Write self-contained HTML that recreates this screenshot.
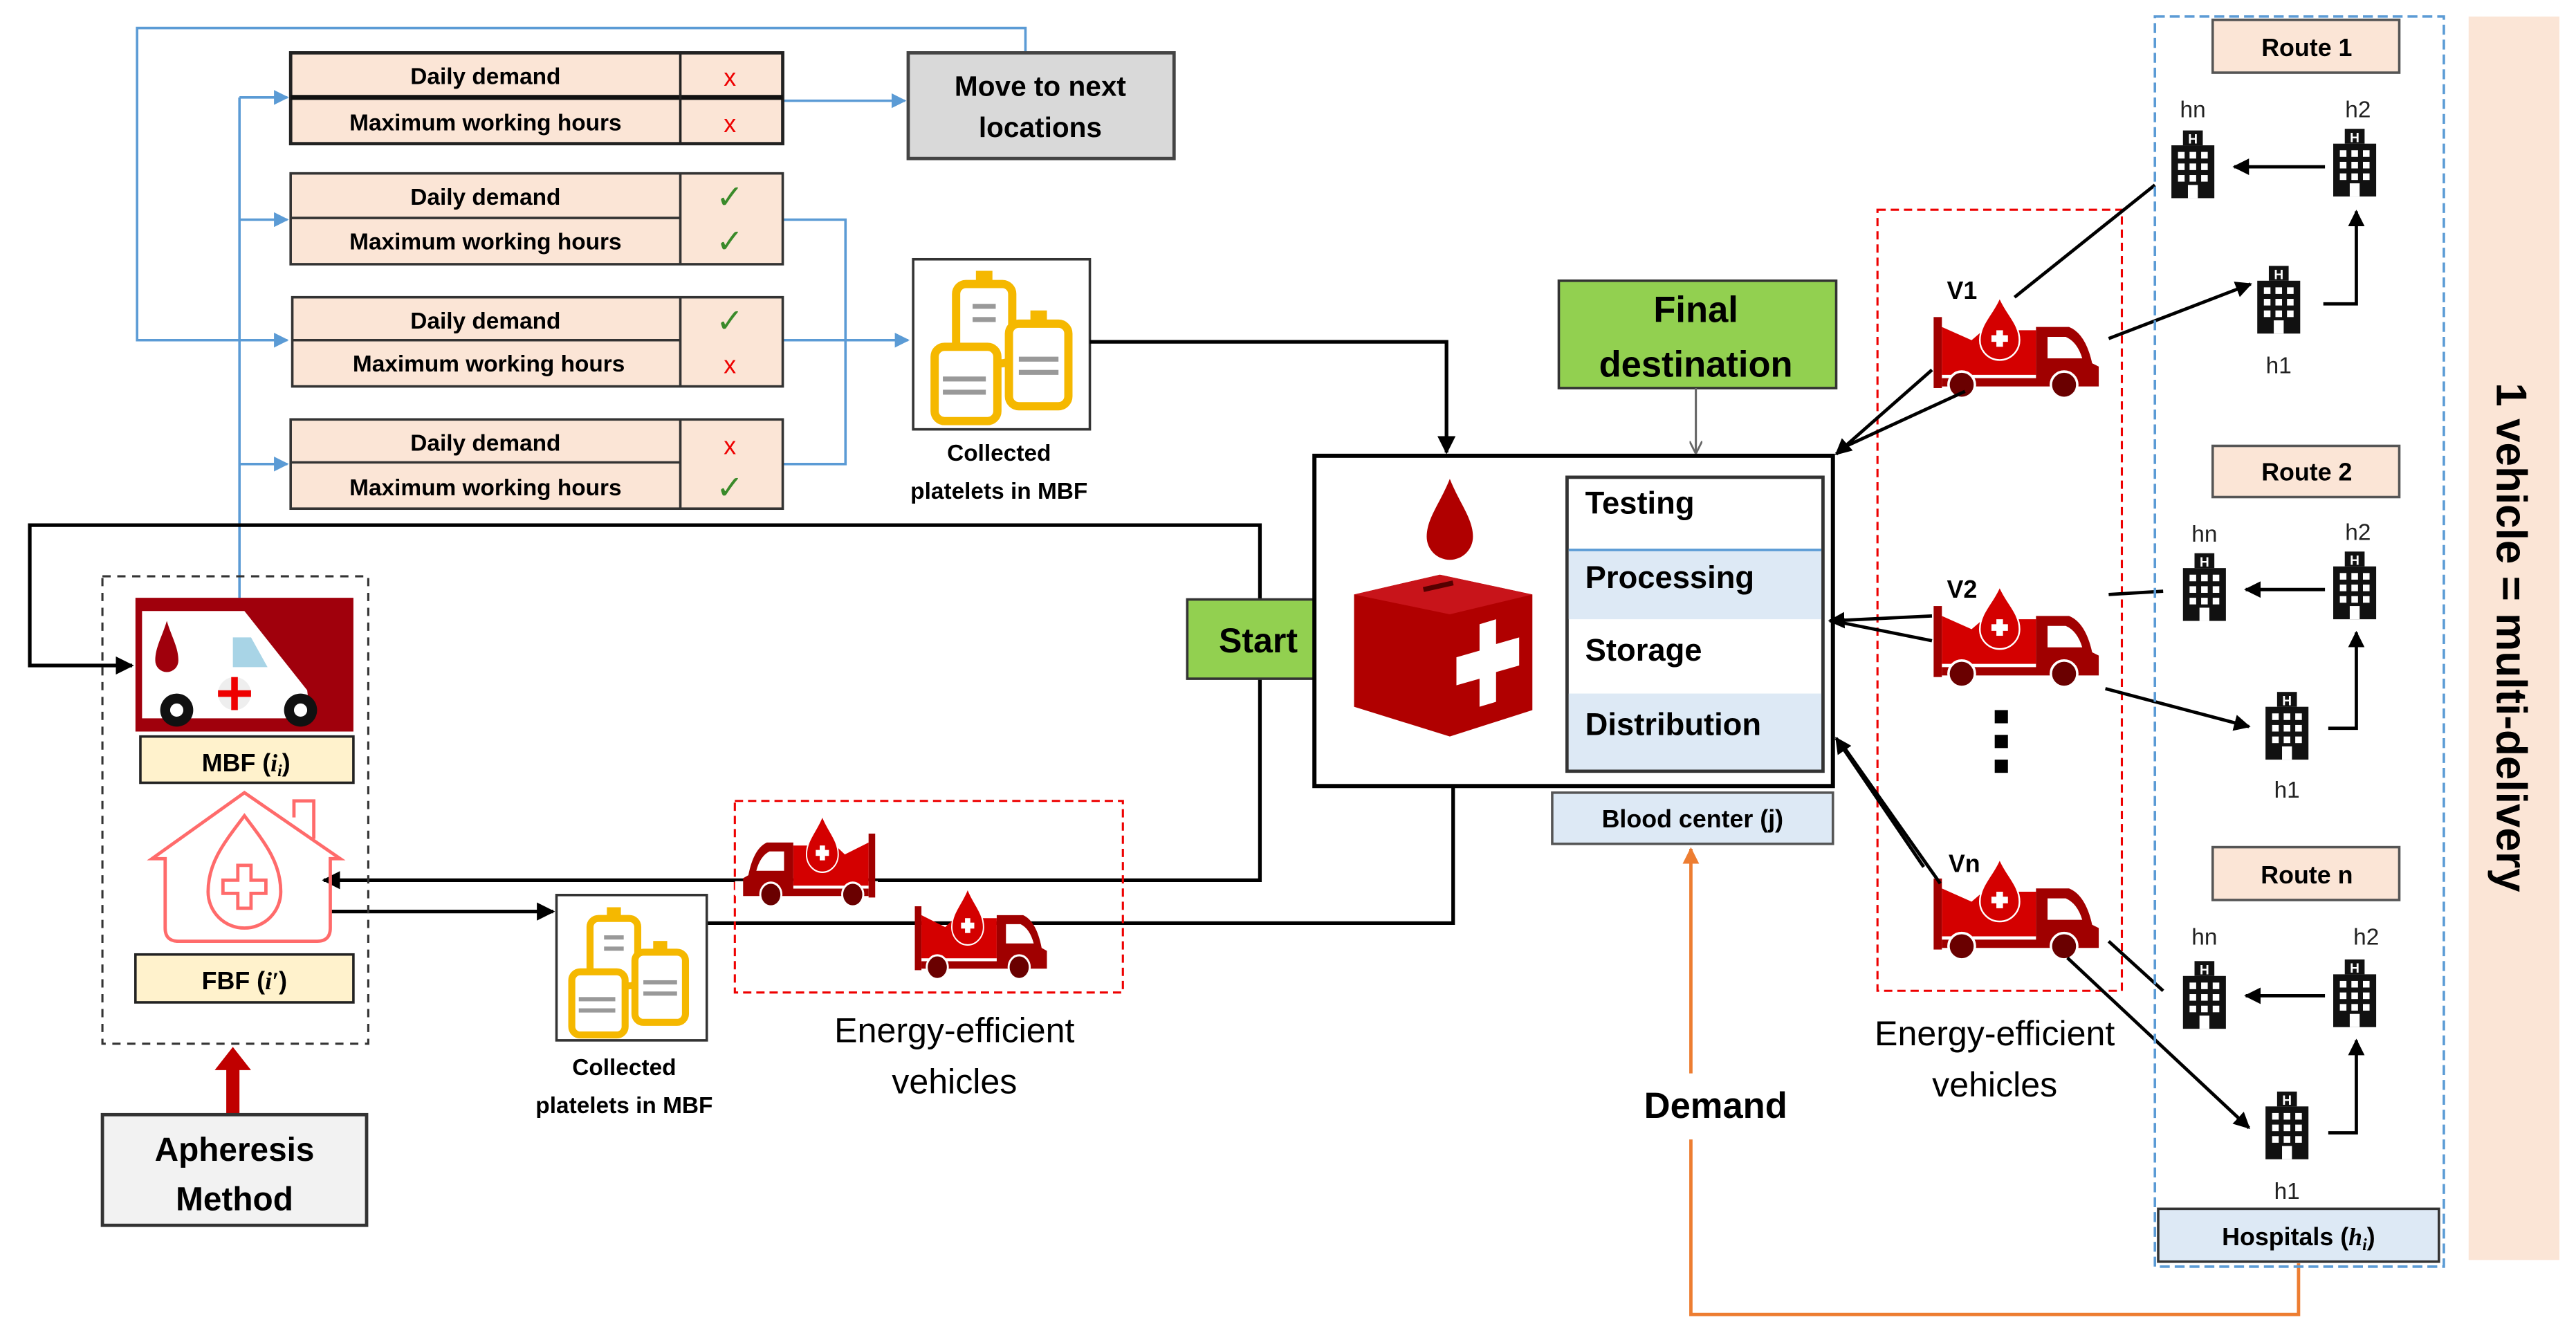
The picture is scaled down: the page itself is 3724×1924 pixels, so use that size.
<!DOCTYPE html>
<html><head><meta charset="utf-8"><style>
html,body{margin:0;padding:0;background:#fff}
svg{display:block}
text{font-family:"Liberation Sans","DejaVu Sans",sans-serif}
</style></head><body>
<svg width="3724" height="1924" viewBox="0 0 1560 806" xmlns="http://www.w3.org/2000/svg">
<defs>
<marker id="ab" viewBox="0 0 10 10" refX="9" refY="5" markerWidth="6" markerHeight="6" orient="auto"><path d="M0,0 L10,5 L0,10 z" fill="#5b9bd5"/></marker>
<marker id="ak" viewBox="0 0 10 10" refX="9" refY="5" markerWidth="5" markerHeight="5" orient="auto"><path d="M0,0 L10,5 L0,10 z" fill="#000"/></marker>
<marker id="ag" viewBox="0 0 10 10" refX="9" refY="5" markerWidth="6" markerHeight="6" orient="auto"><path d="M0,0 L10,5 L0,10" fill="none" stroke="#666" stroke-width="1.5"/></marker>
<marker id="ao" viewBox="0 0 10 10" refX="9" refY="5" markerWidth="5" markerHeight="5" orient="auto"><path d="M0,0 L10,5 L0,10 z" fill="#ed7d31"/></marker>
<g id="truck">
 <rect x="0" y="12" width="5" height="43" fill="#a00000"/>
 <path d="M5,18 L23,26 L30,20 L62,20 L62,47 L5,47 z" fill="#d40000"/>
 <path d="M40,0 C44,10 52,16 52,26 A12,12 0 0 1 28,26 C28,16 36,10 40,0 z" fill="#d40000" stroke="#fff" stroke-width="1"/>
 <rect x="35" y="23" width="10" height="4" fill="#fff"/><rect x="38" y="20" width="4" height="10" fill="#fff"/>
 <path d="M62,18 L82,18 Q92,22 96,40 L100,42 L100,54 L5,54 L5,49 L62,49 z" fill="#a00000"/>
 <path d="M69,24 L80,24 Q87,27 90,37 L69,37 z" fill="#fff"/>
 <circle cx="17" cy="53" r="8" fill="#6a0000" stroke="#fff" stroke-width="1.5"/>
 <circle cx="79" cy="53" r="8" fill="#6a0000" stroke="#fff" stroke-width="1.5"/>
</g>
<g id="bld">
 <rect x="7" y="0" width="12" height="9" fill="#111"/>
 <text x="13" y="8" font-size="8" fill="#fff" text-anchor="middle" font-weight="bold">H</text>
 <rect x="0" y="9" width="26" height="32" fill="#111"/>
 <g fill="#fff">
  <rect x="4" y="13" width="4" height="4"/><rect x="11" y="13" width="4" height="4"/><rect x="18" y="13" width="4" height="4"/>
  <rect x="4" y="20" width="4" height="4"/><rect x="11" y="20" width="4" height="4"/><rect x="18" y="20" width="4" height="4"/>
  <rect x="4" y="27" width="4" height="4"/><rect x="11" y="27" width="4" height="4"/><rect x="18" y="27" width="4" height="4"/>
  <rect x="10" y="33" width="6" height="8"/>
 </g>
</g>
<g id="bags">
 <rect x="18" y="12" width="34" height="48" rx="6" fill="#fff" stroke="#f5b800" stroke-width="5"/>
 <rect x="30" y="4" width="10" height="8" fill="#f5b800"/>
 <rect x="5" y="50" width="38" height="45" rx="6" fill="#fff" stroke="#f5b800" stroke-width="5"/>
 <rect x="50" y="36" width="36" height="50" rx="6" fill="#fff" stroke="#f5b800" stroke-width="5"/>
 <rect x="63" y="28" width="10" height="8" fill="#f5b800"/>
 <g fill="#999"><rect x="28" y="24" width="14" height="3"/><rect x="28" y="32" width="14" height="3"/><rect x="56" y="56" width="24" height="3"/><rect x="56" y="64" width="24" height="3"/><rect x="10" y="68" width="26" height="3"/><rect x="10" y="76" width="26" height="3"/></g>
</g>
</defs>

<g stroke="#5b9bd5" stroke-width="1.5" fill="none">
 <path d="M621,31 L621,17 L83,17 L83,206 L174,206" marker-end="url(#ab)"/>
 <path d="M145,362 L145,59"/>
 <path d="M145,59 L174,59" marker-end="url(#ab)"/>
 <path d="M145,133 L174,133" marker-end="url(#ab)"/>
 <path d="M145,281 L174,281" marker-end="url(#ab)"/>
 <path d="M474,61 L548,61" marker-end="url(#ab)"/>
 <path d="M474,133 L512,133 L512,281 L474,281"/>
 <path d="M474,206 L550,206" marker-end="url(#ab)"/>
</g>

<g font-weight="bold" font-size="14" text-anchor="middle">
 <g>
  <rect x="176" y="32" width="298" height="55" fill="#fbe5d6" stroke="#222" stroke-width="2"/>
  <line x1="176" y1="59" x2="474" y2="59" stroke="#111" stroke-width="3"/><line x1="412" y1="32" x2="412" y2="87" stroke="#222" stroke-width="1.5"/>
  <text x="294" y="51">Daily demand</text><text x="294" y="79">Maximum working hours</text>
  <text x="442" y="52" fill="#e00" font-weight="normal" font-size="15">x</text><text x="442" y="80" fill="#e00" font-weight="normal" font-size="15">x</text>
 </g>
 <g>
  <rect x="176" y="105" width="298" height="55" fill="#fbe5d6" stroke="#333" stroke-width="1.5"/>
  <line x1="176" y1="132" x2="412" y2="132" stroke="#333" stroke-width="1.5"/><line x1="412" y1="105" x2="412" y2="160" stroke="#333" stroke-width="1.5"/>
  <text x="294" y="124">Daily demand</text><text x="294" y="151">Maximum working hours</text>
  <text x="442" y="126" fill="#3a8a2a" font-weight="normal" font-size="20">✓</text><text x="442" y="153" fill="#3a8a2a" font-weight="normal" font-size="20">✓</text>
 </g>
 <g>
  <rect x="177" y="180" width="297" height="54" fill="#fbe5d6" stroke="#333" stroke-width="1.5"/>
  <line x1="177" y1="206" x2="412" y2="206" stroke="#333" stroke-width="1.5"/><line x1="412" y1="180" x2="412" y2="234" stroke="#333" stroke-width="1.5"/>
  <text x="294" y="199">Daily demand</text><text x="296" y="225">Maximum working hours</text>
  <text x="442" y="201" fill="#3a8a2a" font-weight="normal" font-size="20">✓</text><text x="442" y="226" fill="#e00" font-weight="normal" font-size="15">x</text>
 </g>
 <g>
  <rect x="176" y="254" width="298" height="54" fill="#fbe5d6" stroke="#333" stroke-width="1.5"/>
  <line x1="176" y1="280" x2="412" y2="280" stroke="#333" stroke-width="1.5"/><line x1="412" y1="254" x2="412" y2="308" stroke="#333" stroke-width="1.5"/>
  <text x="294" y="273">Daily demand</text><text x="294" y="300">Maximum working hours</text>
  <text x="442" y="275" fill="#e00" font-weight="normal" font-size="15">x</text><text x="442" y="302" fill="#3a8a2a" font-weight="normal" font-size="20">✓</text>
 </g>
</g>

<rect x="550" y="32" width="161" height="64" fill="#d9d9d9" stroke="#444" stroke-width="2"/>
<text x="630" y="58" font-size="17" font-weight="bold" text-anchor="middle">Move to next</text>
<text x="630" y="83" font-size="17" font-weight="bold" text-anchor="middle">locations</text>

<rect x="553" y="157" width="107" height="103" fill="#fff" stroke="#333" stroke-width="1.5"/>
<use href="#bags" transform="translate(561,160)"/>
<text x="605" y="279" font-size="14" font-weight="bold" text-anchor="middle">Collected</text>
<text x="605" y="302" font-size="14" font-weight="bold" text-anchor="middle">platelets in MBF</text>

<g stroke="#000" stroke-width="2.2" fill="none">
 <path d="M660,207 L876,207 L876,274" marker-end="url(#ak)"/>
 <path d="M763,363 L763,318 L18,318 L18,403 L80,403" marker-end="url(#ak)"/>
 <path d="M763,411 L763,533 L196,533" marker-end="url(#ak)"/>
 <path d="M200,552 L335,552" marker-end="url(#ak)"/>
 <path d="M428,559 L880,559 L880,451" marker-end="url(#ak)"/>
</g>

<rect x="62" y="349" width="161" height="283" fill="none" stroke="#333" stroke-width="1.3" stroke-dasharray="5,4"/>
<rect x="82" y="362" width="132" height="81" fill="#a0000c"/>
<path d="M86,370 L148,370 L186,418 L188,435 L86,435 z" fill="#fff"/>
<path d="M141,386 L152,386 L162,404 L141,404 z" fill="#a8d4e6"/>
<path d="M101,376 C104,386 108,392 108,400 A7,7 0 0 1 94,400 C94,392 98,386 101,376z" fill="#a0000c"/>
<circle cx="142" cy="420" r="10" fill="#eee"/><rect x="140" y="410" width="4" height="20" fill="#e00"/><rect x="132" y="418" width="20" height="4" fill="#e00"/>
<circle cx="107" cy="430" r="10" fill="#111"/><circle cx="107" cy="430" r="4" fill="#fff"/>
<circle cx="182" cy="430" r="10" fill="#111"/><circle cx="182" cy="430" r="4" fill="#fff"/>
<rect x="85" y="446" width="129" height="28" fill="#fff2cc" stroke="#222" stroke-width="1.5"/>
<text x="149" y="467" font-size="15" font-weight="bold" text-anchor="middle">MBF (<tspan font-style="italic" font-family="Liberation Serif">i</tspan><tspan font-size="10" font-style="italic" font-family="Liberation Serif" dy="3">i</tspan><tspan dy="-3">)</tspan></text>
<g fill="none" stroke="#ff6b6b" stroke-width="2">
 <path d="M92,520 L148,480 L206,520 L200,520 L200,562 Q200,570 192,570 L108,570 Q100,570 100,562 L100,520 z"/>
 <path d="M178,495 L178,485 L190,485 L190,508"/>
 <path d="M148,494 C160,510 170,522 170,540 A22,22 0 0 1 126,540 C126,522 136,510 148,494 z"/>
 <path d="M144,524 h8 v9 h9 v8 h-9 v9 h-8 v-9 h-9 v-8 h9 z"/>
</g>
<rect x="82" y="578" width="132" height="29" fill="#fff2cc" stroke="#222" stroke-width="1.5"/>
<text x="148" y="599" font-size="15" font-weight="bold" text-anchor="middle">FBF (<tspan font-style="italic" font-family="Liberation Serif">i′</tspan>)</text>
<path d="M137,675 L137,648 L130,648 L141,634 L152,648 L145,648 L145,675 z" fill="#c00000"/>
<rect x="62" y="675" width="160" height="67" fill="#f2f2f2" stroke="#333" stroke-width="2"/>
<text x="142" y="703" font-size="20" font-weight="bold" text-anchor="middle">Apheresis</text>
<text x="142" y="733" font-size="20" font-weight="bold" text-anchor="middle">Method</text>

<rect x="337" y="542" width="91" height="88" fill="#fff" stroke="#333" stroke-width="1.5"/>
<g transform="translate(342,546) scale(0.85)"><use href="#bags"/></g>
<text x="378" y="651" font-size="14" font-weight="bold" text-anchor="middle">Collected</text>
<text x="378" y="674" font-size="14" font-weight="bold" text-anchor="middle">platelets in MBF</text>

<rect x="445" y="485" width="235" height="116" fill="none" stroke="#e00" stroke-width="1.3" stroke-dasharray="5,3"/>
<g transform="translate(530,494) scale(-0.8,0.9)"><rect x="-2" y="44" width="108" height="10" fill="#fff"/><use href="#truck"/></g>
<g transform="translate(554,538) scale(0.8,0.9)"><use href="#truck"/></g>
<text x="578" y="631" font-size="21" text-anchor="middle">Energy-efficient</text>
<text x="578" y="662" font-size="21" text-anchor="middle">vehicles</text>

<rect x="719" y="363" width="86" height="48" fill="#92d050" stroke="#333" stroke-width="1.5"/>
<text x="762" y="395" font-size="21" font-weight="bold" text-anchor="middle">Start</text>

<rect x="796" y="276" width="314" height="200" fill="#fff" stroke="#000" stroke-width="2.5"/>
<path d="M878,290 C884,305 892,314 892,325 A14,14 0 0 1 864,325 C864,314 872,305 878,290z" fill="#b00000"/>
<path d="M820,360 L872,348 L928,360 L928,430 L878,446 L820,428 z" fill="#b00000"/>
<path d="M820,360 L872,348 L928,360 L878,372 z" fill="#c8141a"/>
<line x1="862" y1="357" x2="880" y2="353" stroke="#500" stroke-width="3"/>
<path d="M896,378 L906,375 L906,390 L920,386 L920,403 L906,407 L906,425 L896,428 L896,411 L882,415 L882,398 L896,394 z" fill="#fff"/>
<rect x="949" y="289" width="155" height="178" fill="#fff" stroke="#333" stroke-width="2"/>
<rect x="950" y="333" width="153" height="42" fill="#dde9f5"/>
<line x1="950" y1="333" x2="1103" y2="333" stroke="#5b9bd5" stroke-width="1.5"/>
<rect x="950" y="420" width="153" height="46" fill="#dde9f5"/>
<g font-size="19" font-weight="bold"><text x="960" y="311">Testing</text><text x="960" y="356">Processing</text><text x="960" y="400">Storage</text><text x="960" y="445">Distribution</text></g>
<rect x="940" y="480" width="170" height="31" fill="#dde9f5" stroke="#555" stroke-width="1.5"/>
<text x="1025" y="501" font-size="15" font-weight="bold" text-anchor="middle">Blood center (j)</text>

<rect x="944" y="170" width="168" height="65" fill="#92d050" stroke="#333" stroke-width="1.5"/>
<text x="1027" y="195" font-size="22" font-weight="bold" text-anchor="middle">Final</text>
<text x="1027" y="228" font-size="22" font-weight="bold" text-anchor="middle">destination</text>
<path d="M1027,235 L1027,274" stroke="#666" stroke-width="1.3" marker-end="url(#ag)"/>

<g stroke="#ed7d31" stroke-width="2" fill="none">
 <path d="M1392,765 L1392,796 L1024,796 L1024,690"/>
 <path d="M1024,650 L1024,514" marker-end="url(#ao)"/>
</g>
<text x="1039" y="677" font-size="22" font-weight="bold" text-anchor="middle">Demand</text>

<rect x="1137" y="127" width="148" height="473" fill="none" stroke="#e00" stroke-width="1.3" stroke-dasharray="5,3"/>
<use href="#truck" transform="translate(1171,180)"/>
<use href="#truck" transform="translate(1171,355)"/>
<use href="#truck" transform="translate(1171,520)"/>
<g font-size="15" font-weight="bold"><text x="1179" y="181">V1</text><text x="1179" y="362">V2</text><text x="1180" y="528">Vn</text></g>
<g fill="#000"><rect x="1208" y="430" width="8" height="8"/><rect x="1208" y="445" width="8" height="8"/><rect x="1208" y="460" width="8" height="8"/></g>
<text x="1208" y="633" font-size="21" text-anchor="middle">Energy-efficient</text>
<text x="1208" y="664" font-size="21" text-anchor="middle">vehicles</text>

<g stroke="#000" stroke-width="2" fill="none">
 <path d="M1170,224 L1112,275" marker-end="url(#ak)"/>
 <path d="M1190,237 L1114,272"/>
 <path d="M1220,180 L1305,112"/>
 <path d="M1277,205 L1363,172" marker-end="url(#ak)"/>
 <path d="M1170,373 L1108,376" marker-end="url(#ak)"/>
 <path d="M1170,388 L1110,376"/>
 <path d="M1277,360 L1310,358"/>
 <path d="M1275,417 L1362,440" marker-end="url(#ak)"/>
 <path d="M1165,525 L1112,447" marker-end="url(#ak)"/>
 <path d="M1175,535 L1115,450"/>
 <path d="M1277,570 L1310,600"/>
 <path d="M1252,580 L1362,683" marker-end="url(#ak)"/>
</g>

<rect x="1305" y="10" width="175" height="757" fill="none" stroke="#5b9bd5" stroke-width="1.5" stroke-dasharray="6,3"/>
<g font-size="15" font-weight="bold" text-anchor="middle">
 <rect x="1340" y="12" width="113" height="32" fill="#fbe5d6" stroke="#555" stroke-width="1.5"/><text x="1397" y="34">Route 1</text>
 <rect x="1340" y="270" width="113" height="31" fill="#fbe5d6" stroke="#555" stroke-width="1.5"/><text x="1397" y="291">Route 2</text>
 <rect x="1340" y="513" width="113" height="32" fill="#fbe5d6" stroke="#555" stroke-width="1.5"/><text x="1397" y="535">Route n</text>
 <rect x="1307" y="732" width="170" height="32" fill="#dde9f5" stroke="#333" stroke-width="1.5"/><text x="1392" y="754">Hospitals (<tspan font-style="italic" font-family="Liberation Serif">h</tspan><tspan font-size="10" font-style="italic" font-family="Liberation Serif" dy="3">i</tspan><tspan dy="-3">)</tspan></text>
</g>
<g font-size="14" text-anchor="middle" fill="#222">
 <text x="1328" y="71">hn</text><text x="1428" y="71">h2</text><text x="1380" y="226">h1</text>
 <text x="1335" y="328">hn</text><text x="1428" y="327">h2</text><text x="1385" y="483">h1</text>
 <text x="1335" y="572">hn</text><text x="1433" y="572">h2</text><text x="1385" y="726">h1</text>
</g>
<use href="#bld" transform="translate(1315,79)"/><use href="#bld" transform="translate(1413,78)"/><use href="#bld" transform="translate(1367,161)"/>
<use href="#bld" transform="translate(1322,335)"/><use href="#bld" transform="translate(1413,334)"/><use href="#bld" transform="translate(1372,419)"/>
<use href="#bld" transform="translate(1322,582)"/><use href="#bld" transform="translate(1413,581)"/><use href="#bld" transform="translate(1372,661)"/>
<g stroke="#000" stroke-width="2" fill="none">
 <path d="M1408,101 L1353,101" marker-end="url(#ak)"/><path d="M1407,184 L1427,184 L1427,128" marker-end="url(#ak)"/>
 <path d="M1408,357 L1360,357" marker-end="url(#ak)"/><path d="M1410,441 L1427,441 L1427,383" marker-end="url(#ak)"/>
 <path d="M1408,603 L1360,603" marker-end="url(#ak)"/><path d="M1410,686 L1427,686 L1427,630" marker-end="url(#ak)"/>
</g>

<rect x="1495" y="10" width="55" height="753" fill="#fbe5d6"/>
<text transform="translate(1512,386) rotate(90)" font-size="26" font-weight="bold" text-anchor="middle">1 vehicle = multi-delivery</text>
</svg>
</body></html>
